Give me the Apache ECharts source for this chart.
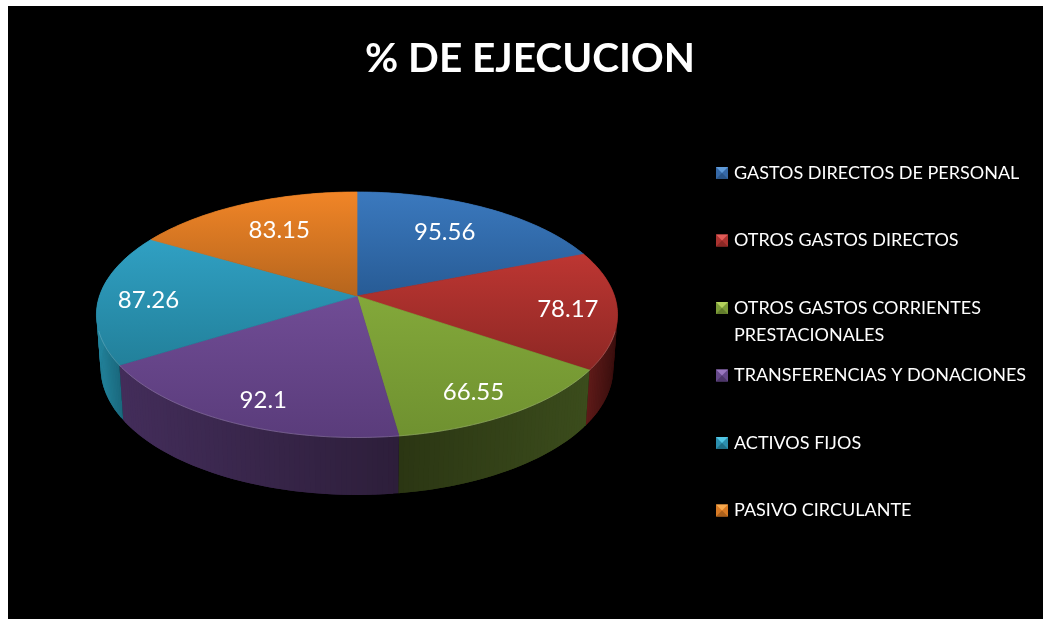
<!DOCTYPE html>
<html>
<head>
<meta charset="utf-8">
<style>html,body{margin:0;padding:0;background:#fff}#c{width:1043px;height:619px}</style>
<script src="https://cdn.jsdelivr.net/npm/echarts@6/dist/echarts.min.js"></script>
</head>
<body>
<div id="c"></div>
<script>
const categories = ['GASTOS DIRECTOS DE PERSONAL','OTROS GASTOS DIRECTOS','OTROS GASTOS CORRIENTES\nPRESTACIONALES','TRANSFERENCIAS Y DONACIONES','ACTIVOS FIJOS','PASIVO CIRCULANTE'];
const values = [95.56,78.17,66.55,92.1,87.26,83.15];
const chartTitle = '% DE EJECUCION';

// styles
const FONT = 'Lato';
const topColors = [['#3b79be','#275b95'],['#bd3632','#8d2724'],['#83a83a','#6f9130'],['#704c95','#5a3c7b'],['#30a0c3','#22809a'],['#f18527','#b5651d']];
const sideColors = [['#1d3c62','#1d3c62'],['#5e1a18','#3a0f0e'],['#2b3613','#3b4c1c'],['#432d5a','#2d1e3a'],['#23849d','#1a687d'],['#7a4310','#7a4310']];
const legendColors = ['#3568a6','#ab3330','#7c9c38','#654889','#2b8fae','#d77a25'];
const legendLight = ['#5f9ad8','#e25c58','#b4d25c','#9a77c0','#52c6e4','#f7a94e'];
const legendDark = ['#2a5588','#8a2825','#627c2c','#4d3669','#1f6f87','#ab601c'];
const labelNudge = [[-3,-2],[-2,2],[-8,3],[7,4],[3,3],[2,-1]];

// perspective of the pie disc
const TILT = {cx:357, cy:296, a:257.5, b:-74.7, c:0.1527};
function project(theta, r){
  const X = r*Math.sin(theta), Y = r*Math.cos(theta), d = 1 + TILT.c*Y;
  return [TILT.cx + TILT.a*X/d, (TILT.cy + TILT.b*Y)/d];
}
function lower(p){ return [TILT.cx + 0.984*(p[0]-TILT.cx), 348.6 + 1.034*(p[1]-TILT.cy)]; }

const total = values.reduce((s,v)=>s+v,0);
const starts = []; let acc = 0;
values.forEach(v=>{starts.push(acc/total*2*Math.PI); acc+=v;});
function arc(i){
  const a0 = starts[i], a1 = a0 + values[i]/total*2*Math.PI, pts=[];
  const n = Math.ceil((a1-a0)/(Math.PI/180));
  for(let k=0;k<=n;k++) pts.push(project(a0+(a1-a0)*k/n,1));
  return pts;
}
const grad = (x2,y2,c)=>new echarts.graphic.LinearGradient(0,0,x2,y2,[{offset:0,color:c[0]},{offset:1,color:c[1]}]);

function renderSide(params){
  const i = params.dataIndex, top = arc(i), bot = top.map(lower);
  const near = bot.filter((p,k)=>top[k][1] > 300);
  const xs = (near.length ? near : bot).map(p=>p[0]);
  const xMin = Math.min(...xs), xMax = Math.max(...xs);
  const children = [];
  for(let k=0;k<top.length-1;k++){
    const e = Math.min(k+2, top.length-1);
    const t = Math.max(0, Math.min(1, ((bot[k][0]+bot[k+1][0])/2 - xMin)/(xMax-xMin || 1)));
    const col = echarts.color.lerp(t, sideColors[i]);
    children.push({type:'polygon', shape:{points:[top[k],top[e],bot[e],bot[k]]}, style:{fill:col}});
  }
  return {type:'group', children};
}
function makeTop(i){
  return function(){
    const a = arc(i), mid = starts[i] + values[i]/total*Math.PI;
    const far = Math.cos(mid) > 0.5;
    const lp = project(mid, far ? 0.68 : 0.82);
    const rim = a.filter(p=>p[1] > 330);
    const kids = [
      {type:'polygon', z2:1, shape:{points:[project(0,0)].concat(a)}, style:{fill:grad(0,1,topColors[i]), stroke:grad(0,1,topColors[i]), lineWidth:0.7, lineJoin:'round'}},
      {type:'text', z2:3, x:lp[0]+labelNudge[i][0], y:lp[1]+labelNudge[i][1], style:{text:String(values[i]), fill:'#fff', font:'24px '+FONT, align:'center', verticalAlign:'middle'}}
    ];
    if(rim.length>1) kids.push({type:'polyline', z2:2, shape:{points:rim}, style:{fill:null, stroke:'rgba(255,255,255,0.18)', lineWidth:1}});
    return {type:'group', children:kids};
  };
}

const series = [{
  name:'sides', type:'custom', coordinateSystem:'none', silent:true, z:1,
  data:values, renderItem:renderSide
}].concat(categories.map((name,i)=>({
  name, type:'custom', coordinateSystem:'none', silent:true, z:2,
  itemStyle:{color:legendColors[i]}, data:[values[i]], renderItem:makeTop(i)
})));

const LEG = {x:716, top:161, row:67.5, size:12, lh:20, pad:4, font:18};
const boxH = LEG.lh + LEG.pad;
const marks = [];
categories.forEach((name,i)=>{
  const y0 = LEG.top + LEG.row*i + (boxH-LEG.size)/2, x0 = LEG.x, s = LEG.size;
  marks.push({type:'polygon', z:20, shape:{points:[[x0,y0],[x0+s,y0],[x0+s/2,y0+s/2]]}, style:{fill:legendLight[i]}});
  marks.push({type:'polygon', z:20, shape:{points:[[x0,y0+s],[x0+s,y0+s],[x0+s/2,y0+s/2]]}, style:{fill:legendDark[i]}});
  const lines = name.split('\n');
  if(lines[1]) marks.push({type:'text', z:20, x:LEG.x+18, y:LEG.top+LEG.row*i+boxH/2+27, style:{text:lines[1], fill:'#fff', font:LEG.font+'px '+FONT, verticalAlign:'middle'}});
});

const chart = echarts.init(document.getElementById('c'), null, {renderer:'canvas'});
chart.setOption({
  animation:false,
  backgroundColor:'#fff',
  title:{text:chartTitle, left:525, top:33, textAlign:'center', textStyle:{color:'#fff', fontFamily:FONT, fontWeight:'bold', fontSize:40.5}},
  legend:{
    data:categories, orient:'vertical', left:LEG.x, top:LEG.top, padding:0,
    itemWidth:LEG.size, itemHeight:LEG.size, itemGap:LEG.row-boxH, icon:'rect', selectedMode:false,
    formatter:n=>n.split('\n')[0],
    textStyle:{color:'#fff', fontFamily:FONT, fontSize:LEG.font, lineHeight:LEG.lh, padding:[LEG.pad,0,0,1]}
  },
  graphic:[{type:'rect', z:-100, silent:true, shape:{x:8,y:6,width:1035,height:613}, style:{fill:'#000'}}].concat(marks),
  series
});
</script>
</body>
</html>
